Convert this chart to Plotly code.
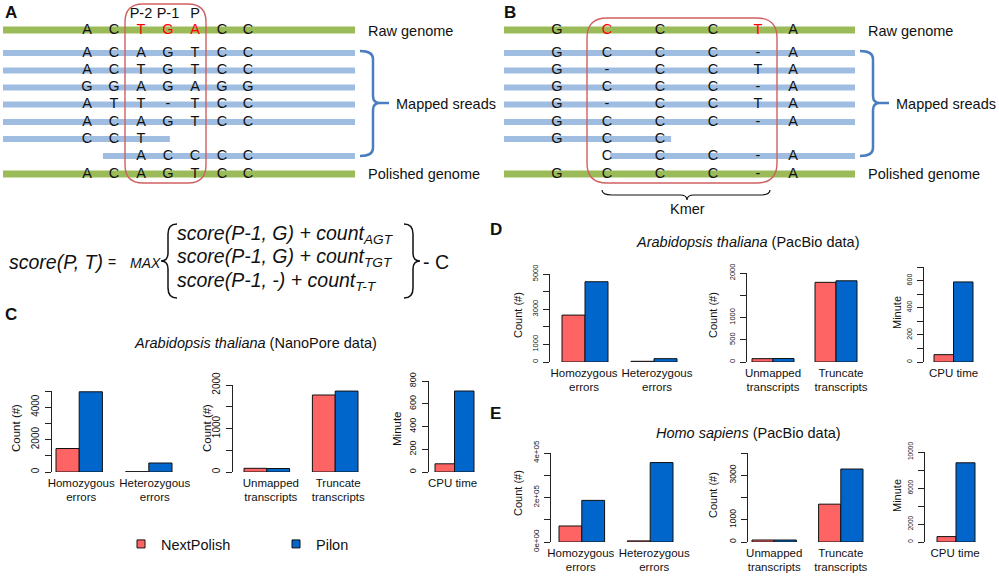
import numpy as np
import plotly.graph_objects as go

W, H = 999, 577
FONT = "Liberation Sans, Arial, sans-serif"

# ---------------- data ----------------
SERIES = ["NextPolish", "Pilon"]
COLORS = ["#FF6464", "#0066CC"]

err_cats = ["Homozygous<br>errors", "Heterozygous<br>errors"]
tr_cats = ["Unmapped<br>transcripts", "Truncate<br>transcripts"]
cpu_cats = ["CPU time"]

C_err_np = [1450, 20]
C_err_pi = [4950, 555]
C_tr_np = [85, 1770]
C_tr_pi = [80, 1860]
C_cpu_np = [72]
C_cpu_pi = [712]

D_err_np = [2665, 40]
D_err_pi = [4560, 190]
D_tr_np = [75, 1790]
D_tr_pi = [78, 1825]
D_cpu_np = [54]
D_cpu_pi = [590]

E_err_np = [72000, 5000]
E_err_pi = [187000, 357000]
E_tr_np = [90, 1700]
E_tr_pi = [90, 3280]
E_cpu_np = [600]
E_cpu_pi = [8800]

# panel A / B sequences
A_HEADER = ["", "", "P-2", "P-1", "P", "", ""]
A_RAW = "ACTGACC"
A_RAW_RED = [2, 3, 4]
A_READS = ["ACAGTCC", "ACTGTCC", "GGAGAGG", "ATT-TCC", "ACAGTCC", "CCT    ", "  ACCCC"]
A_READ_START = [None, None, None, None, None, None, 0.59]   # alignment start (column units)
A_READ_END = [None, None, None, None, None, 3.07, None]
A_POLISHED = "ACAGTCC"

B_RAW = "GCCCTA"
B_RAW_RED = [1, 4]
B_READS = ["GCCC-A", "G-CCTA", "GCCC-A", "G-CCTA", "GCCC-A", "GCC   ", " CCC-A"]
B_READ_START = [None, None, None, None, None, None, 1.06]
B_READ_END = [None, None, None, None, None, 2.21, None]
B_POLISHED = "GCCC-A"

# ---------------- layout constants (pixels) ----------------
A_COLS = [87, 114, 141, 168, 195, 222, 248]
B_COLS = [557, 607, 660, 713, 758, 793]
ROW_Y = [30, 53, 70.5, 87.5, 104.5, 122, 139, 156, 174]  # raw, 7 reads, polished
A_EDGES = (3, 355)
B_EDGES = (504, 855)
GREEN = "#9BBB59"
BLUE = "#9FBDE1"
RED_BOX = "#D06060"
BRACKET = "#4A7EC0"

fig = go.Figure()


def col_px(cols, c):
    cols = np.asarray(cols, float)
    idx = np.arange(len(cols))
    if c <= 0:
        return cols[0] + c * (cols[1] - cols[0])
    if c >= len(cols) - 1:
        return cols[-1] + (c - len(cols) + 1) * (cols[-1] - cols[-2])
    return float(np.interp(c, idx, cols))


def draw_panel(cols, edges, raw, raw_red, reads, starts, ends, polished, header=None):
    gx, gy = [], []
    for row in (0, 8):
        gx += [edges[0], edges[1], None]
        gy += [ROW_Y[row], ROW_Y[row], None]
    fig.add_trace(go.Scatter(x=gx, y=gy, mode="lines", line=dict(color=GREEN, width=7),
                             xaxis="x10", yaxis="y10", showlegend=False, hoverinfo="skip"))
    bx, by = [], []
    for i, r in enumerate(reads):
        x0 = edges[0] if starts[i] is None else col_px(cols, starts[i])
        x1 = edges[1] if ends[i] is None else col_px(cols, ends[i])
        bx += [x0, x1, None]
        by += [ROW_Y[i + 1], ROW_Y[i + 1], None]
    fig.add_trace(go.Scatter(x=bx, y=by, mode="lines", line=dict(color=BLUE, width=6),
                             xaxis="x10", yaxis="y10", showlegend=False, hoverinfo="skip"))
    tx, ty, tt, tc = [], [], [], []
    rows = [raw] + reads + [polished]
    for ri, s in enumerate(rows):
        for ci, ch in enumerate(s):
            if ch == " ":
                continue
            tx.append(cols[ci]); ty.append(ROW_Y[ri]); tt.append(ch)
            tc.append("#FF0000" if (ri == 0 and ci in raw_red) else "#111111")
    if header:
        for ci, h in enumerate(header):
            if h:
                tx.append(cols[ci]); ty.append(14); tt.append(h); tc.append("#111111")
    fig.add_trace(go.Scatter(x=tx, y=ty, text=tt, mode="text", textposition="middle center",
                             textfont=dict(family=FONT, size=14.5, color=tc),
                             xaxis="x10", yaxis="y10", showlegend=False, hoverinfo="skip"))


draw_panel(A_COLS, A_EDGES, A_RAW, A_RAW_RED, A_READS, A_READ_START, A_READ_END, A_POLISHED, A_HEADER)
draw_panel(B_COLS, B_EDGES, B_RAW, B_RAW_RED, B_READS, B_READ_START, B_READ_END, B_POLISHED)


# ---------------- bar charts ----------------
def fmt_plain(v):
    return str(int(v))


def fmt_sci(v):
    return "{:.0e}".format(v)


charts = [
    dict(cats=err_cats, v=(C_err_np, C_err_pi), ax=52, a=56, d=172, base=472, top=391, ymax=5000, step=1000,
         labels=[0, 2000, 4000], tf=10, fmt=fmt_plain, yt="Count (#)", ytx=16, yty=428, ytf=11.5, lo=[2, 6]),
    dict(cats=tr_cats, v=(C_tr_np, C_tr_pi), ax=233, a=244, d=358, base=472, top=385, ymax=2000, step=500,
         labels=[0, 1000, 2000], tf=10, fmt=fmt_plain, yt="Count (#)", ytx=207, yty=428, ytf=11.5, lo=[4, 3]),
    dict(cats=cpu_cats, v=(C_cpu_np, C_cpu_pi), ax=429, a=435, d=474, base=472, top=381, ymax=800, step=200,
         labels=[0, 200, 400, 600, 800], tf=9, fmt=fmt_plain, yt="Minute", ytx=397, yty=429, ytf=11.5, lo=[-2]),
    dict(cats=err_cats, v=(D_err_np, D_err_pi), ax=550, a=562, d=677, base=362, top=274, ymax=5000, step=1000,
         labels=[0, 1000, 3000, 5000], tf=7.5, fmt=fmt_plain, yt="Count (#)", ytx=518, yty=315, ytf=11, lo=[-1, 3]),
    dict(cats=tr_cats, v=(D_tr_np, D_tr_pi), ax=747, a=752, d=857, base=362, top=273, ymax=2000, step=500,
         labels=[0, 500, 1000, 2000], tf=7.5, fmt=fmt_plain, yt="Count (#)", ytx=713, yty=315, ytf=11, lo=[0, 5]),
    dict(cats=cpu_cats, v=(D_cpu_np, D_cpu_pi), ax=924, a=934, d=973, base=362, top=267, ymax=700, step=100,
         labels=[0, 200, 400, 600], tf=7, fmt=fmt_plain, yt="Minute", ytx=897, yty=313, ytf=11, lo=[0]),
    dict(cats=err_cats, v=(E_err_np, E_err_pi), ax=551, a=559, d=673, base=542, top=453, ymax=400000, step=100000,
         labels=[0, 200000, 400000], tf=8, fmt=fmt_sci, yt="Count (#)", ytx=518, yty=493, ytf=11, lo=[-1, 4]),
    dict(cats=tr_cats, v=(E_tr_np, E_tr_pi), ax=748, a=752, d=863, base=542, top=453, ymax=4000, step=1000,
         labels=[0, 1000, 3000], tf=8.5, fmt=fmt_plain, yt="Count (#)", ytx=713, yty=495, ytf=11, lo=[0, 0]),
    dict(cats=cpu_cats, v=(E_cpu_np, E_cpu_pi), ax=925, a=937, d=975, base=542, top=452, ymax=10000, step=2000,
         labels=[0, 2000, 6000, 10000], tf=6.5, fmt=fmt_plain, yt="Minute", ytx=897, yty=496, ytf=11, lo=[-1]),
]

annotations = []
layout_axes = {}
for k, ch in enumerate(charts, start=1):
    n = len(ch["cats"])
    span = (n - 1) + 2.0 / 3.0
    u = (ch["d"] - ch["a"]) / span
    g = (ch["a"] - ch["ax"]) / u
    xr = [-1.0 / 3.0 - g, (n - 1) + 1.0 / 3.0 + g]
    xdom = [ch["ax"] / W, (ch["d"] + (ch["a"] - ch["ax"])) / W]
    ydom = [1 - ch["base"] / H, 1 - ch["top"] / H]
    xa = "x" if k == 1 else "x%d" % k
    ya = "y" if k == 1 else "y%d" % k
    pos = list(range(n))
    for s, vals in enumerate(ch["v"]):
        fig.add_trace(go.Bar(x=pos, y=vals, name=SERIES[s], xaxis=xa, yaxis=ya,
                             customdata=ch["cats"], hovertemplate="%{customdata}: %{y}",
                             marker=dict(color=COLORS[s], line=dict(color="#111111", width=1)),
                             offsetgroup=str(s), width=1.0 / 3.0, showlegend=False))
    allv = list(np.arange(0, ch["ymax"] + ch["step"] / 2, ch["step"]))
    major = [float(l) for l in ch["labels"]]
    minor = [v for v in allv if not any(abs(v - l) < 1e-9 for l in major)]
    layout_axes["xaxis" if k == 1 else "xaxis%d" % k] = dict(
        domain=xdom, range=xr, type="linear", showline=False, showgrid=False, zeroline=False,
        ticks="", tickangle=0, automargin=False, tickmode="array",
        tickvals=[p + o / u for p, o in zip(pos, ch["lo"])], ticktext=ch["cats"],
        tickfont=dict(family=FONT, size=11.5, color="#111111"), anchor=ya,
        fixedrange=True, ticklabelstandoff=2)
    layout_axes["yaxis" if k == 1 else "yaxis%d" % k] = dict(
        domain=ydom, range=[0, ch["ymax"]], showline=True, linecolor="#222222", linewidth=1,
        ticks="outside", ticklen=6, tickcolor="#222222", tickwidth=1, showgrid=False, zeroline=False,
        tickmode="array", tickvals=major, ticktext=[ch["fmt"](v) for v in major],
        minor=dict(tickmode="array", tickvals=minor, ticks="outside", ticklen=6, tickcolor="#222222",
                   tickwidth=1, showgrid=False),
        tickangle=-90, automargin=False,
        tickfont=dict(family=FONT, size=ch["tf"], color="#111111"),
        anchor=xa, fixedrange=True, ticklabelstandoff=2)
    annotations.append(dict(text=ch["yt"], x=ch["ytx"] / W, y=1 - ch["yty"] / H, xref="paper", yref="paper",
                            showarrow=False, textangle=-90, xanchor="center", yanchor="middle",
                            font=dict(family=FONT, size=ch["ytf"], color="#111111")))

# legend entries
for s in range(2):
    fig.add_trace(go.Scatter(x=[None], y=[None], mode="markers", name=SERIES[s], xaxis="x10", yaxis="y10",
                             marker=dict(symbol="square", size=8, color=COLORS[s],
                                         line=dict(color="#111111", width=1))))


def P(x, y):
    return x / W, 1 - y / H


def ann(text, x, y, size, xanchor="left", color="#111111", bold=False):
    px, py = P(x, y)
    annotations.append(dict(text=("<b>%s</b>" % text) if bold else text, x=px, y=py, xref="paper",
                            yref="paper", showarrow=False, xanchor=xanchor, yanchor="middle",
                            font=dict(family=FONT, size=size, color=color)))


# panel titles
ann("<i>Arabidopsis thaliana</i> (NanoPore data)", 255, 343, 14.5, "center")
ann("<i>Arabidopsis thaliana</i> (PacBio data)", 747, 242, 14.5, "center")
ann("<i>Homo sapiens</i> (PacBio data)", 748, 433, 14.5, "center")

# panel letters
ann("A", 3, 12, 17, bold=True)
ann("B", 502, 12, 17, bold=True)
ann("C", 3, 314, 17, bold=True)
ann("D", 488, 229, 17, bold=True)
ann("E", 488, 413, 17, bold=True)

# diagram labels
for off in (0, 500):
    ann("Raw genome", 366 + off, 31, 14.5)
    ann("Mapped sreads", 394 + off, 104, 14.5)
    ann("Polished genome", 366 + off, 174, 14.5)
ann("Kmer", 687, 209, 14.5, "center")

# formula
ann("<i>score(P, T)</i>", 7, 262, 19.5)
ann("=", 106, 262, 14)
ann("<i>MAX</i>", 128, 263, 14)
ann("<i>score(P-1, G) + count<sub>AGT</sub></i>", 175, 234, 19.5)
ann("<i>score(P-1, G) + count<sub>TGT</sub></i>", 175, 257, 19.5)
ann("<i>score(P-1, -) + count<sub>T-T</sub></i>", 175, 281, 19.5)
ann("- C", 421, 262, 19.5)

# shapes
shapes = []


def rbox(x0, y0, x1, y1, r):
    return ("M %f,%f L %f,%f Q %f,%f %f,%f L %f,%f Q %f,%f %f,%f L %f,%f Q %f,%f %f,%f L %f,%f Q %f,%f %f,%f Z" %
            (x0 + r, y0, x1 - r, y0, x1, y0, x1, y0 + r, x1, y1 - r, x1, y1, x1 - r, y1,
             x0 + r, y1, x0, y1, x0, y1 - r, x0, y0 + r, x0, y0, x0 + r, y0))


shapes.append(dict(type="path", path=rbox(125, 4, 206, 183, 18), xref="x10", yref="y10",
                   line=dict(color=RED_BOX, width=1.4)))
shapes.append(dict(type="path", path=rbox(587, 18, 777, 183, 20), xref="x10", yref="y10",
                   line=dict(color=RED_BOX, width=1.4)))


def rbracket(x0, xm, xt, y0, ym, y1):
    return ("M %f,%f Q %f,%f %f,%f L %f,%f Q %f,%f %f,%f L %f,%f M %f,%f Q %f,%f %f,%f L %f,%f Q %f,%f %f,%f" %
            (x0, y0, xm, y0, xm, y0 + 8, xm, ym - 7, xm, ym, xm + 7, ym, xt, ym,
             xm + 7, ym, xm, ym, xm, ym + 7, xm, y1 - 8, xm, y1, x0, y1))


shapes.append(dict(type="path", path=rbracket(360, 373, 389, 51, 103, 156), xref="x10", yref="y10",
                   line=dict(color=BRACKET, width=2.5)))
shapes.append(dict(type="path", path=rbracket(860, 873, 889, 51, 103, 156), xref="x10", yref="y10",
                   line=dict(color=BRACKET, width=2.5)))
shapes.append(dict(type="path",
                   path="M 602,190 Q 602,195 612,195 L 680,195 Q 687,195 687,200 Q 687,195 694,195 L 760,195 Q 770,195 770,190",
                   xref="x10", yref="y10", line=dict(color="#111111", width=1.2)))
shapes.append(dict(type="path",
                   path="M 177,224 Q 168,224 168,234 L 168,253 Q 168,261 161,261 Q 168,261 168,269 L 168,288 Q 168,298 177,298",
                   xref="x10", yref="y10", line=dict(color="#111111", width=1.5)))
shapes.append(dict(type="path",
                   path="M 404,224 Q 413,224 413,234 L 413,253 Q 413,261 420,261 Q 413,261 413,269 L 413,288 Q 413,298 404,298",
                   xref="x10", yref="y10", line=dict(color="#111111", width=1.5)))

layout_axes["xaxis10"] = dict(domain=[0, 1], range=[0, W], visible=False, fixedrange=True, anchor="y10",
                              automargin=False)
layout_axes["yaxis10"] = dict(domain=[0, 1], range=[H, 0], visible=False, fixedrange=True, anchor="x10",
                              automargin=False)

fig.update_layout(
    template="none",
    width=W, height=H, margin=dict(l=0, r=0, t=0, b=0, pad=0, autoexpand=False),
    paper_bgcolor="white", plot_bgcolor="rgba(0,0,0,0)",
    barmode="group", bargap=1.0 / 3.0, bargroupgap=0,
    font=dict(family=FONT, color="#111111"),
    showlegend=True,
    legend=dict(orientation="h", x=121 / W, y=1 - 544 / H, xanchor="left", yanchor="middle",
                font=dict(family=FONT, size=14.5, color="#111111"), entrywidth=110, entrywidthmode="pixels",
                bgcolor="rgba(0,0,0,0)", itemwidth=30),
    annotations=annotations, shapes=shapes,
    **layout_axes,
)

fig.write_html("out.html", config={"staticPlot": True},
               post_script="document.body.style.margin='0px';document.body.style.overflow='hidden';")
